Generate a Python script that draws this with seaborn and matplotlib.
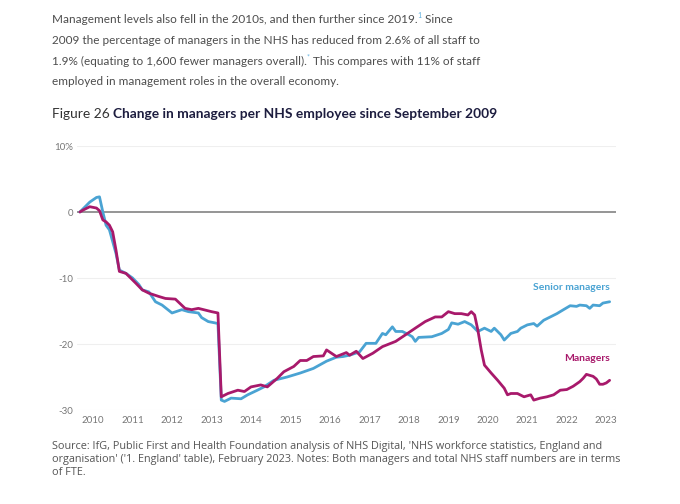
import pandas as pd
import numpy as np
import matplotlib
matplotlib.use('Agg')
import matplotlib.pyplot as plt
from matplotlib import font_manager as fm
import seaborn as sns

# values (% change since Sep 2009)
senior_dates = ['2009-09', '2009-12', '2010-02', '2010-03', '2010-04', '2010-05', '2010-06',
                '2010-08', '2010-09', '2010-11', '2011-01', '2011-03', '2011-04', '2011-06',
                '2011-08', '2011-10', '2012-01', '2012-04', '2012-06', '2012-09', '2012-10',
                '2012-12', '2013-02', '2013-03', '2013-04', '2013-05', '2013-07', '2013-10',
                '2013-12', '2014-03', '2014-05', '2014-08', '2014-12', '2015-04', '2015-08',
                '2015-12', '2016-03', '2016-05', '2016-07', '2016-10', '2016-12', '2017-03',
                '2017-05', '2017-06', '2017-08', '2017-09', '2017-11', '2018-01', '2018-02',
                '2018-03', '2018-04', '2018-08', '2018-11', '2019-01', '2019-02', '2019-04',
                '2019-06', '2019-08', '2019-10', '2019-12', '2020-02', '2020-03', '2020-05',
                '2020-06', '2020-08', '2020-10', '2020-11', '2021-01', '2021-03', '2021-04',
                '2021-06', '2021-08', '2021-10', '2021-12', '2022-02', '2022-04', '2022-05',
                '2022-07', '2022-08', '2022-09', '2022-11', '2022-12', '2023-02']
senior_values = [0.0, 1.5, 2.2, 2.3, 0.0, -2.0, -2.7,
                 -6.3, -8.8, -9.3, -10.0, -11.0, -11.8, -12.1,
                 -13.6, -14.1, -15.3, -14.8, -15.1, -15.3, -16.0,
                 -16.6, -16.8, -16.9, -28.5, -28.7, -28.2, -28.3,
                 -27.7, -27.0, -26.5, -25.5, -25.0, -24.4, -23.7,
                 -22.6, -22.0, -21.9, -21.7, -21.2, -19.9, -19.9,
                 -18.4, -18.6, -17.4, -18.1, -18.1, -18.6, -18.9,
                 -19.6, -19.0, -18.9, -18.4, -17.8, -16.8, -17.0,
                 -16.6, -17.1, -18.1, -17.6, -18.1, -17.6, -18.6,
                 -19.4, -18.4, -18.1, -17.6, -17.1, -16.9, -17.3,
                 -16.4, -15.9, -15.4, -14.8, -14.2, -14.3, -14.1,
                 -14.2, -14.6, -14.1, -14.2, -13.8, -13.6]

managers_dates = ['2009-09', '2009-10', '2009-12', '2010-02', '2010-03', '2010-04', '2010-05',
                  '2010-06', '2010-07', '2010-08', '2010-09', '2010-11', '2011-02', '2011-04',
                  '2011-06', '2011-09', '2011-11', '2012-02', '2012-05', '2012-07', '2012-09',
                  '2013-01', '2013-03', '2013-04', '2013-06', '2013-09', '2013-11', '2014-01',
                  '2014-04', '2014-06', '2014-09', '2014-11', '2015-02', '2015-04', '2015-06',
                  '2015-08', '2015-11', '2015-12', '2016-03', '2016-06', '2016-07', '2016-09',
                  '2016-11', '2017-02', '2017-05', '2017-09', '2017-12', '2018-03', '2018-06',
                  '2018-09', '2018-11', '2019-01', '2019-03', '2019-05', '2019-07', '2019-08',
                  '2019-09', '2019-10', '2019-11', '2019-12', '2020-02', '2020-04', '2020-06',
                  '2020-07', '2020-08', '2020-10', '2020-12', '2021-02', '2021-03', '2021-05',
                  '2021-07', '2021-09', '2021-11', '2022-01', '2022-03', '2022-05', '2022-06',
                  '2022-07', '2022-09', '2022-10', '2022-11', '2022-12', '2023-01', '2023-02']
managers_values = [0.0, 0.3, 0.8, 0.6, 0.2, -1.2, -1.5,
                   -2.0, -3.0, -5.8, -9.0, -9.3, -10.8, -11.8,
                   -12.3, -12.8, -13.1, -13.2, -14.6, -14.8, -14.6,
                   -15.1, -15.3, -28.0, -27.5, -27.0, -27.2, -26.5,
                   -26.2, -26.5, -25.2, -24.2, -23.4, -22.5, -22.5,
                   -21.9, -21.8, -20.9, -21.9, -21.3, -21.7, -21.1,
                   -22.2, -21.4, -20.4, -19.6, -18.6, -17.6, -16.6,
                   -15.9, -15.9, -15.1, -15.4, -15.4, -15.6, -15.1,
                   -15.6, -17.9, -20.9, -23.2, -24.4, -25.5, -26.7,
                   -27.7, -27.5, -27.5, -28.0, -27.7, -28.5, -28.2,
                   -28.0, -27.7, -27.0, -26.9, -26.4, -25.7, -25.2,
                   -24.6, -24.9, -25.3, -26.1, -26.1, -25.9, -25.5]

year_ticks = list(range(2010, 2024))
y_ticks = [10, 0, -10, -20, -30]
y_tick_labels = ['10%', '0', '-10', '-20', '-30']

senior_color = '#4aa3d3'
managers_color = '#a8196b'

sns.set_theme(style='white')
installed = {f.name for f in fm.fontManager.ttflist}
narrow = 'Liberation Sans Narrow' if 'Liberation Sans Narrow' in installed else 'Lato'
plt.rcParams['font.family'] = [narrow, 'DejaVu Sans']

df = pd.concat([
    pd.DataFrame({'date': pd.to_datetime(senior_dates), 'change': senior_values,
                  'series': 'Senior managers'}),
    pd.DataFrame({'date': pd.to_datetime(managers_dates), 'change': managers_values,
                  'series': 'Managers'}),
])

fig = plt.figure(figsize=(6.8, 5.04), dpi=100)
ax = fig.add_axes([77 / 680, 1 - 410 / 504, (616 - 77) / 680, (410 - 146) / 504])

for y in y_ticks:
    if y == 0:
        ax.axhline(0, color='#8c8c8c', lw=1.3, zorder=1)
    else:
        ax.axhline(y, color='#efefef', lw=0.8, zorder=0)

sns.lineplot(data=df, x='date', y='change', hue='series',
             palette={'Senior managers': senior_color, 'Managers': managers_color},
             hue_order=['Senior managers', 'Managers'],
             linewidth=2.0, legend=False, ax=ax)

ax.set_ylim(-30, 10)
ax.set_xlim(pd.Timestamp('2009-08-05'), pd.Timestamp('2023-04-01'))
ax.set_yticks(y_ticks)
ax.set_yticklabels(y_tick_labels)
ax.set_xticks([pd.Timestamp(f'{y}-01-01') for y in year_ticks])
ax.set_xticklabels([str(y) for y in year_ticks])
ax.tick_params(axis='both', length=0, labelsize=7, labelcolor='#777777')
ax.tick_params(axis='x', pad=4)
ax.tick_params(axis='y', pad=3)
ax.set_xlabel('')
ax.set_ylabel('')
sns.despine(ax=ax, left=True, bottom=True)

ax.text(0.988, (212 - 287.5) / 6.6, 'Senior managers', transform=ax.get_yaxis_transform(),
        ha='right', va='center', fontsize=7.5, fontweight='bold', color=senior_color)
ax.text(0.988, (212 - 358.5) / 6.6, 'Managers', transform=ax.get_yaxis_transform(),
        ha='right', va='center', fontsize=7.5, fontweight='bold', color=managers_color)

renderer = fig.canvas.get_renderer()


def text_run(x_px, y_px, parts):
    # place text pieces one after another on a baseline
    x = x_px / 680
    for s, kw in parts:
        kw = dict(kw)
        rise = kw.pop('rise', 0)
        t = fig.text(x, 1 - (y_px - rise) / 504, s, va='baseline', **kw)
        bb = t.get_window_extent(renderer)
        x = fig.transFigure.inverted().transform((bb.x1, bb.y0))[0]


body = dict(fontsize=8.5, color='#4d4d4d')
note = dict(fontsize=5, color='#5aaede', rise=5)
text_run(52, 23, [('Management levels also fell in the 2010s, and then further since 2019.', body),
                  ('1', note),
                  (' Since', body)])
text_run(52, 44, [('2009 the percentage of managers in the NHS has reduced from 2.6% of all staff to', body)])
text_run(52, 65, [('1.9% (equating to 1,600 fewer managers overall).', body),
                  ('*', note),
                  (' This compares with 11% of staff', body)])
text_run(52, 85, [('employed in management roles in the overall economy.', body)])

text_run(52, 118, [('Figure 26 ', dict(fontsize=9.9, color='#333333')),
                   ('Change in managers per NHS employee since September 2009',
                    dict(fontsize=9.9, color='#1d1d3f', fontweight='bold'))])

src = dict(fontsize=7.8, color='#555555', family=['Open Sans', 'DejaVu Sans'])
text_run(52, 449, [("Source: IfG, Public First and Health Foundation analysis of NHS Digital, 'NHS workforce statistics, England and", src)])
text_run(52, 462, [("organisation' ('1. England' table), February 2023. Notes: Both managers and total NHS staff numbers are in terms", src)])
text_run(52, 475, [('of FTE.', src)])

fig.savefig('out.png', dpi=100)
